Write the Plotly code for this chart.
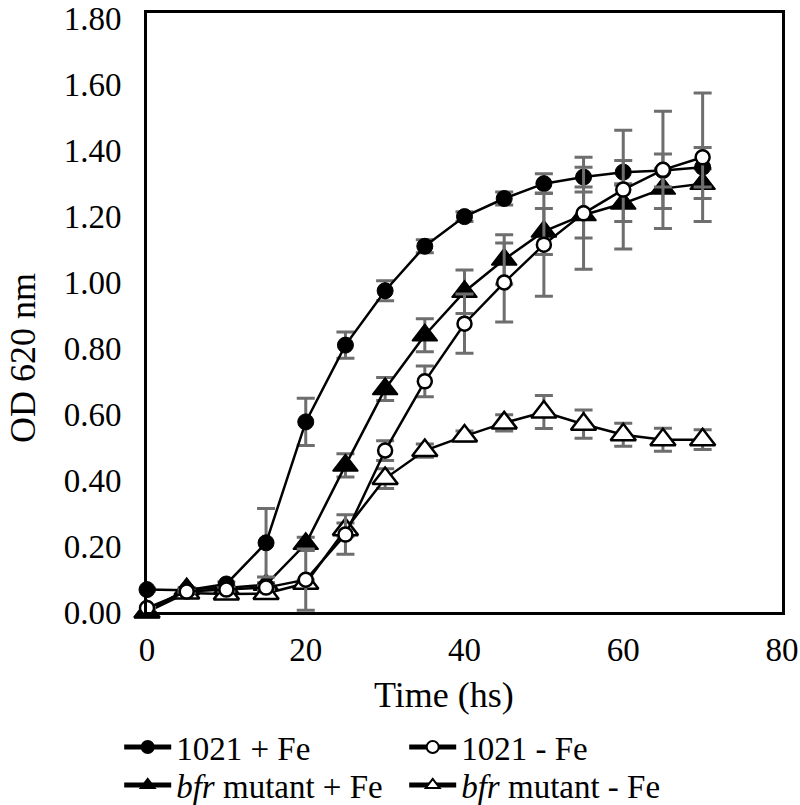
import plotly.graph_objects as go

# ---- data ----
time_h = [0, 5, 10, 15, 20, 25, 30, 35, 40, 45, 50, 55, 60, 65, 70]

wt_fe = [0.068, 0.066, 0.085, 0.21, 0.577, 0.81, 0.975, 1.11, 1.20, 1.255, 1.30, 1.32, 1.335, 1.34, 1.35]
wt_fe_err = [0.004, 0.004, 0.006, 0.104, 0.072, 0.04, 0.03, 0.02, 0.015, 0.02, 0.03, 0.03, 0.035, 0.05, 0.06]

wt_nofe = [0.012, 0.062, 0.068, 0.074, 0.098, 0.235, 0.49, 0.70, 0.875, 1.00, 1.115, 1.21, 1.282, 1.342, 1.38]
wt_nofe_err = [0.004, 0.004, 0.005, 0.006, 0.093, 0.06, 0.03, 0.047, 0.09, 0.12, 0.157, 0.17, 0.18, 0.178, 0.195]

bfr_fe = [0.0, 0.07, 0.073, 0.083, 0.207, 0.445, 0.677, 0.84, 0.972, 1.07, 1.155, 1.205, 1.24, 1.285, 1.30]
bfr_fe_err = [0.003, 0.004, 0.005, 0.006, 0.02, 0.035, 0.035, 0.05, 0.066, 0.075, 0.07, 0.07, 0.055, 0.06, 0.045]

bfr_nofe = [0.0, 0.058, 0.055, 0.056, 0.087, 0.25, 0.405, 0.49, 0.534, 0.574, 0.607, 0.57, 0.538, 0.523, 0.523]
bfr_nofe_err = [0.003, 0.003, 0.004, 0.004, 0.01, 0.02, 0.03, 0.02, 0.015, 0.025, 0.05, 0.043, 0.035, 0.035, 0.03]

names = ["1021 + Fe", "1021 - Fe", "<i>bfr</i> mutant + Fe", "<i>bfr</i> mutant - Fe"]

FONT = "Liberation Serif"
ERR_COLOR = "#6e6e6e"

def err(vals):
    return dict(type="data", array=vals, visible=True, color=ERR_COLOR, thickness=3, width=9)

fig = go.Figure()

# drawing order (bottom to top): bfr - Fe, bfr + Fe, 1021 + Fe, 1021 - Fe
fig.add_trace(go.Scatter(
    x=time_h, y=bfr_nofe, name=names[3], legend="legend2", legendrank=2, mode="lines+markers",
    line=dict(color="black", width=2.5),
    marker=dict(symbol="triangle-up", size=22, color="white", line=dict(color="black", width=2.5)),
    error_y=err(bfr_nofe_err), cliponaxis=False))
fig.add_trace(go.Scatter(
    x=time_h, y=bfr_fe, name=names[2], legend="legend2", legendrank=1, mode="lines+markers",
    line=dict(color="black", width=2.5),
    marker=dict(symbol="triangle-up", size=22, color="black", line=dict(color="black", width=1.5)),
    error_y=err(bfr_fe_err), cliponaxis=False))
fig.add_trace(go.Scatter(
    x=time_h, y=wt_fe, name=names[0], legend="legend", legendrank=1, mode="lines+markers",
    line=dict(color="black", width=2.5),
    marker=dict(symbol="circle", size=16, color="black", line=dict(color="black", width=1)),
    error_y=err(wt_fe_err), cliponaxis=False))
fig.add_trace(go.Scatter(
    x=time_h, y=wt_nofe, name=names[1], legend="legend", legendrank=2, mode="lines+markers",
    line=dict(color="black", width=2.5),
    marker=dict(symbol="circle", size=14, color="white", line=dict(color="black", width=2.5)),
    error_y=err(wt_nofe_err), cliponaxis=False))

legend_common = dict(
    orientation="h", xref="container", yref="container", xanchor="left", yanchor="middle",
    font=dict(family=FONT, size=33, color="black"),
    itemwidth=47, itemsizing="constant",
    entrywidth=223, entrywidthmode="pixels",
    bgcolor="rgba(0,0,0,0)", traceorder="normal",
)

fig.update_layout(
    width=800, height=805,
    margin=dict(l=147, r=18, t=13, b=193, autoexpand=False),
    paper_bgcolor="white", plot_bgcolor="white",
    font=dict(family=FONT, color="black"),
    showlegend=True,
    legend=dict(legend_common, x=0.149, y=1 - 747 / 805),
    legend2=dict(legend_common, x=0.149, y=1 - 785 / 805),
    annotations=[
        dict(text="Time (hs)", xref="paper", yref="paper", x=0.4677, y=-0.138,
             xanchor="center", yanchor="middle", showarrow=False,
             font=dict(family=FONT, size=36, color="black")),
        dict(text="OD 620 nm", xref="paper", yref="paper", x=-0.1953, y=0.424,
             xanchor="center", yanchor="middle", showarrow=False, textangle=-90,
             font=dict(family=FONT, size=36, color="black")),
    ],
)

fig.update_xaxes(
    range=[0, 80], dtick=20, tick0=0, showgrid=False, zeroline=False, automargin=False,
    showline=True, linecolor="black", linewidth=3, mirror=True, ticks="",
    tickfont=dict(family=FONT, size=33, color="black"), ticklabelstandoff=6,
    ticklabeloverflow="allow",
)
fig.update_yaxes(
    range=[0, 1.818], dtick=0.2, tick0=0, tickformat=".2f", showgrid=False, zeroline=False,
    automargin=False,
    showline=True, linecolor="black", linewidth=3, mirror=True, ticks="",
    tickfont=dict(family=FONT, size=33, color="black"), ticklabelstandoff=16,
    ticklabeloverflow="allow",
)

fig.write_html(
    "out.html",
    config={"displayModeBar": False},
    post_script="document.body.style.margin='0px';document.body.style.overflow='hidden';",
)
